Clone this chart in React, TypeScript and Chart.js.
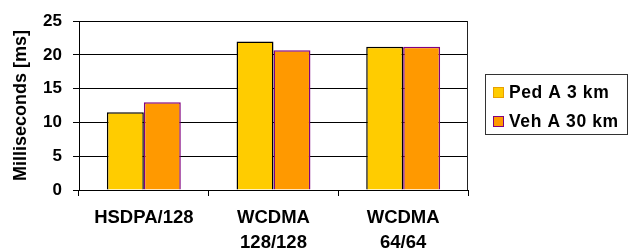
import React, { useEffect, useRef } from "react";
import { Chart, registerables } from "chart.js";

Chart.register(...registerables);

const categories: (string | string[])[] = ["HSDPA/128", ["WCDMA", "128/128"], ["WCDMA", "64/64"]];
const seriesNames = ["Ped A 3 km", "Veh A 30 km"];
const pedA = [11.5, 22.0, 21.2];
const vehA = [13.0, 20.7, 21.2];
const yMin = 0;
const yMax = 25;
const yStep = 5;
const yTitle = "Milliseconds [ms]";

const FONT = "'Liberation Sans', Arial, sans-serif";

const frameAndLegend = {
  id: "frameAndLegend",
  afterDraw(chart: any) {
    const ctx = chart.ctx;
    const a = chart.chartArea;
    ctx.save();
    // right frame line
    ctx.strokeStyle = "#222";
    ctx.lineWidth = 1;
    ctx.beginPath();
    ctx.moveTo(Math.round(a.right) - 0.5, a.top);
    ctx.lineTo(Math.round(a.right) - 0.5, a.bottom);
    ctx.stroke();
    // legend box
    const bx = 485.5, by = 74.5, bw = 142, bh = 60;
    ctx.fillStyle = "#fff";
    ctx.fillRect(bx, by, bw, bh);
    ctx.strokeStyle = "#333";
    ctx.strokeRect(bx, by, bw, bh);
    ctx.font = `bold 17.5px ${FONT}`;
    (ctx as any).letterSpacing = "0.6px";
    ctx.textBaseline = "middle";
    chart.data.datasets.forEach((ds: any, i: number) => {
      const cy = 92 + i * 29;
      ctx.fillStyle = ds.backgroundColor;
      ctx.fillRect(493, cy - 5, 11, 11);
      ctx.strokeStyle = ds.legendBorder;
      ctx.strokeRect(493.5, cy - 4.5, 10, 10);
      ctx.fillStyle = "#000";
      ctx.textAlign = "left";
      ctx.fillText(ds.label, 509, cy + 1);
    });
    ctx.restore();
  },
};

export default function App() {
  const ref = useRef<HTMLCanvasElement>(null);
  useEffect(() => {
    if (!ref.current) return;
    const chart = new Chart(ref.current, {
      type: "bar",
      data: {
        labels: categories,
        datasets: [
          {
            label: seriesNames[0],
            data: pedA,
            backgroundColor: "#FFCC00",
            borderColor: "#000000",
            borderWidth: 1.5,
            legendBorder: "#E8A000",
          } as any,
          {
            label: seriesNames[1],
            data: vehA,
            backgroundColor: "#FF9900",
            borderColor: "#800080",
            borderWidth: 1.5,
            legendBorder: "#800080",
          } as any,
        ],
      },
      options: {
        responsive: false,
        animation: false,
        layout: { padding: { top: 18, right: 160, left: 0, bottom: 0 } },
        datasets: { bar: { barPercentage: 1, categoryPercentage: 0.57 } },
        plugins: { legend: { display: false }, tooltip: { enabled: false } },
        scales: {
          x: {
            offset: true,
            grid: {
              offset: true,
              drawOnChartArea: false,
              drawTicks: true,
              tickLength: 6,
              color: "#000",
            },
            border: { color: "#000", width: 1 },
            ticks: {
              color: "#000",
              padding: 9,
              font: { family: FONT, size: 18.5, weight: "bold", lineHeight: 1.35 },
              maxRotation: 0,
              autoSkip: false,
            },
            afterFit: (s: any) => {
              s.height = 58;
            },
          },
          y: {
            min: yMin,
            max: yMax,
            ticks: {
              stepSize: yStep,
              color: "#000",
              padding: 11,
              font: { family: FONT, size: 17, weight: "bold" },
            },
            grid: { color: "#000", lineWidth: 1, tickLength: 6 },
            border: { color: "#000", width: 1 },
            title: {
              display: true,
              text: yTitle,
              color: "#000",
              font: { family: FONT, size: 18, weight: "bold" },
              padding: { top: 10, bottom: 0 },
            },
            afterFit: (s: any) => {
              s.width = 79;
            },
          },
        },
      },
      plugins: [frameAndLegend],
    });
    return () => chart.destroy();
  }, []);
  return (
    <div style={{ position: "absolute", left: 0, top: 0, width: 628, height: 248, background: "#fff" }}>
      <canvas ref={ref} width={628} height={248} />
    </div>
  );
}
